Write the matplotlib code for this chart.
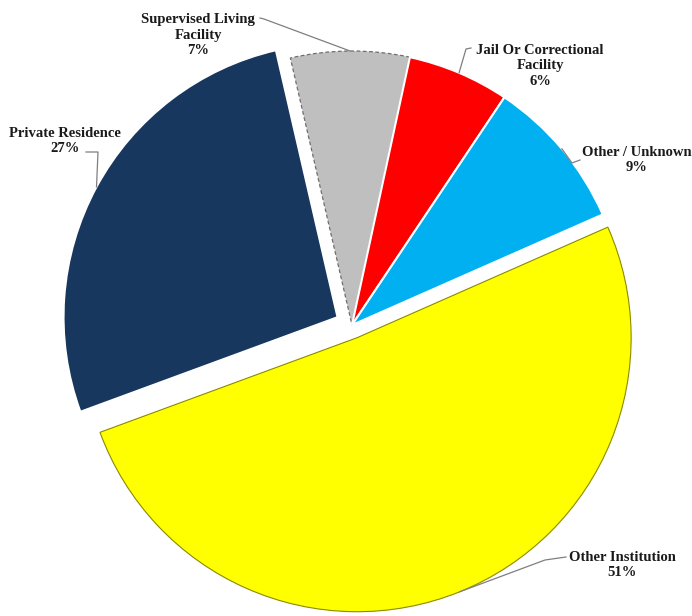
import numpy as np
import matplotlib
matplotlib.use("Agg")
import matplotlib.pyplot as plt

# residence at time of event, share of cases (%)
categories = ["Supervised Living\nFacility", "Jail Or Correctional\nFacility",
              "Other / Unknown", "Other Institution", "Private Residence"]
shares = [7, 6, 9, 51, 27]
colors = ["#BFBFBF", "#FF0000", "#00B0F0", "#FFFF00", "#17375E"]
explode = [0, 0, 0, 0.05, 0.06]

W, H = 692, 616
CX, CY, R = 352, 325, 274   # pie centre and radius in pixels


def px(x, y):
    # pixel position -> data coords (pie radius = 1)
    return ((x - CX) / R, (CY - y) / R)


fig = plt.figure(figsize=(W / 100, H / 100), dpi=100)
ax = fig.add_axes([0, 0, 1, 1])

wedges, _ = ax.pie(shares, colors=colors, explode=explode, startangle=103,
                   counterclock=False, radius=1,
                   wedgeprops=dict(edgecolor="white", linewidth=1.5))
wedges[0].set_edgecolor("#6f6f6f")
wedges[0].set_linestyle((0, (3, 2)))
wedges[0].set_linewidth(0.9)
wedges[3].set_edgecolor("#8a8a00")
wedges[3].set_linewidth(0.8)

ax.set_xlim(-CX / R, (W - CX) / R)
ax.set_ylim((CY - H) / R, CY / R)
ax.set_aspect("auto")
ax.axis("off")

# label text centre, leader start, leader elbow (pixels)
label_pos = [(198, 35), (540, 66), (637, 160), (622, 565), (65, 141)]
leader_start = [(260, 18), (471, 48), (580, 160), (566, 557), (86, 152)]
leader_elbow = [(264, 19), (466, 49), (572, 163), (545, 560), (98, 152)]

for w, cat, val, lp, ls, le in zip(wedges, categories, shares,
                                   label_pos, leader_start, leader_elbow):
    ax.text(*px(*lp), f"{cat}\n{val}%", ha="center", va="center",
            fontsize=10.5, fontweight="bold", family="Liberation Serif",
            linespacing=1.25, color="#1a1a1a")
    mid = np.deg2rad((w.theta1 + w.theta2) / 2)
    ax_, ay_ = w.center[0] + w.r * np.cos(mid), w.center[1] + w.r * np.sin(mid)
    xs = [px(*ls)[0], px(*le)[0], ax_]
    ys = [px(*ls)[1], px(*le)[1], ay_]
    ax.plot(xs, ys, color="#7f7f7f", lw=0.9)

fig.savefig("out.png", dpi=100)
